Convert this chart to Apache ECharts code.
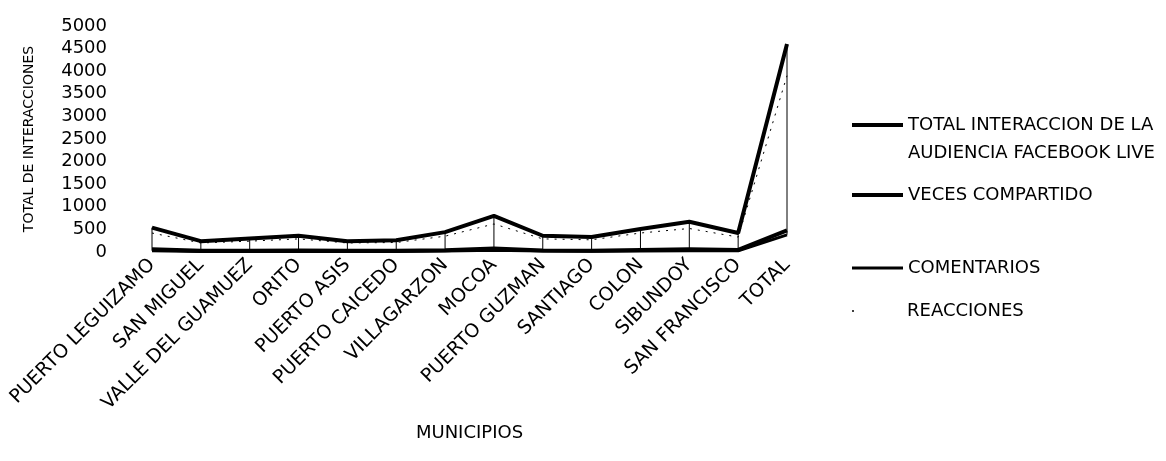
<!DOCTYPE html>
<html>
<head>
<meta charset="utf-8">
<script src="https://cdn.jsdelivr.net/npm/echarts@6/dist/echarts.min.js"></script>
<style>
html,body{margin:0;padding:0;background:#fff;}
#chart{width:1166px;height:461px;}
</style>
</head>
<body>
<div id="chart"></div>
<script>
const categories = ['PUERTO LEGUIZAMO','SAN MIGUEL','VALLE DEL GUAMUEZ','ORITO','PUERTO ASIS','PUERTO CAICEDO','VILLAGARZON','MOCOA','PUERTO GUZMAN','SANTIAGO','COLON','SIBUNDOY','SAN FRANCISCO','TOTAL'];
const totalInteraccion = [540, 240, 300, 360, 240, 260, 440, 800, 360, 330, 510, 670, 420, 4600];
const vecesCompartido = [60, 25, 25, 35, 25, 25, 40, 80, 35, 30, 45, 60, 45, 480];
const comentarios = [30, 10, 10, 15, 10, 10, 20, 40, 20, 15, 20, 30, 25, 380];
const reacciones = [420, 200, 240, 290, 200, 210, 350, 620, 290, 270, 420, 520, 330, 3900];
const yTicks = [0, 500, 1000, 1500, 2000, 2500, 3000, 3500, 4000, 4500, 5000];

const nameTotal = 'TOTAL INTERACCION DE LA\nAUDIENCIA FACEBOOK LIVE';
const nameVeces = 'VECES COMPARTIDO';
const nameCom = 'COMENTARIOS';
const nameReac = 'REACCIONES';

const all = [totalInteraccion, vecesCompartido, comentarios, reacciones];
const hiLo = categories.map((c, i) => {
  const vals = all.map(a => a[i]);
  return [i, Math.min.apply(null, vals), Math.max.apply(null, vals)];
});

const FONT = 'DejaVu Sans';
const legendText = {color: '#000', fontFamily: FONT, fontSize: 18, lineHeight: 22};
function mkLegend(name, top, extra) {
  return Object.assign({
    data: [name],
    orient: 'vertical',
    left: 852,
    top: top,
    padding: 0,
    itemWidth: 51,
    itemHeight: 4,
    itemGap: 0,
    icon: 'rect',
    selectedMode: false,
    textStyle: Object.assign({}, legendText)
  }, extra || {});
}

const chart = echarts.init(document.getElementById('chart'), null, {renderer: 'canvas'});
chart.setOption({
  animation: false,
  backgroundColor: '#fff',
  grid: {left: 152, right: 379, top: 26, bottom: 209, containLabel: false},
  legend: [
    mkLegend(nameTotal, 83, {
      formatter: function (n) { return '\n' + n; },
      textStyle: Object.assign({}, legendText, {lineHeight: 28})
    }),
    mkLegend(nameVeces, 184),
    mkLegend(nameCom, 257, {itemHeight: 3}),
    mkLegend(nameReac, 300, {
      icon: 'circle', itemWidth: 2, itemHeight: 2,
      formatter: function (n) { return '{p|}' + n; },
      textStyle: Object.assign({}, legendText, {rich: {p: {width: 48}}})
    })
  ],
  xAxis: {
    type: 'category',
    data: categories,
    boundaryGap: false,
    axisLine: {show: false},
    axisTick: {show: false},
    axisLabel: {rotate: 45, color: '#000', fontFamily: FONT, fontSize: 19, margin: 10, interval: 0},
    name: 'MUNICIPIOS',
    nameLocation: 'middle',
    nameGap: 172,
    nameTextStyle: {color: '#000', fontFamily: FONT, fontSize: 18}
  },
  yAxis: {
    type: 'value',
    min: yTicks[0],
    max: yTicks[yTicks.length - 1],
    interval: 500,
    axisLine: {show: false},
    axisTick: {show: false},
    splitLine: {show: false},
    axisLabel: {color: '#000', fontFamily: FONT, fontSize: 18, margin: 45, formatter: function (v) { return String(v); }},
    name: 'TOTAL DE INTERACCIONES',
    nameLocation: 'middle',
    nameGap: 116,
    nameTextStyle: {color: '#000', fontFamily: FONT, fontSize: 14}
  },
  series: [
    {
      type: 'custom',
      name: 'hilo',
      silent: true,
      data: hiLo,
      encode: {x: 0, y: [1, 2]},
      renderItem: function (params, api) {
        const p1 = api.coord([api.value(0), api.value(1)]);
        const p2 = api.coord([api.value(0), api.value(2)]);
        return {type: 'line', shape: {x1: p1[0], y1: p1[1], x2: p2[0], y2: p2[1]}, style: {stroke: '#000', lineWidth: 1}};
      },
      z: 1
    },
    {name: nameReac, type: 'line', data: reacciones, symbol: 'none', lineStyle: {color: '#000', width: 1, type: [2, 6]}, itemStyle: {color: '#000'}, z: 2},
    {name: nameCom, type: 'line', data: comentarios, symbol: 'none', lineStyle: {color: '#000', width: 3}, itemStyle: {color: '#000'}, z: 3},
    {name: nameVeces, type: 'line', data: vecesCompartido, symbol: 'none', lineStyle: {color: '#000', width: 4}, itemStyle: {color: '#000'}, z: 3},
    {name: nameTotal, type: 'line', data: totalInteraccion, symbol: 'none', lineStyle: {color: '#000', width: 4}, itemStyle: {color: '#000'}, z: 4}
  ]
});
</script>
</body>
</html>
